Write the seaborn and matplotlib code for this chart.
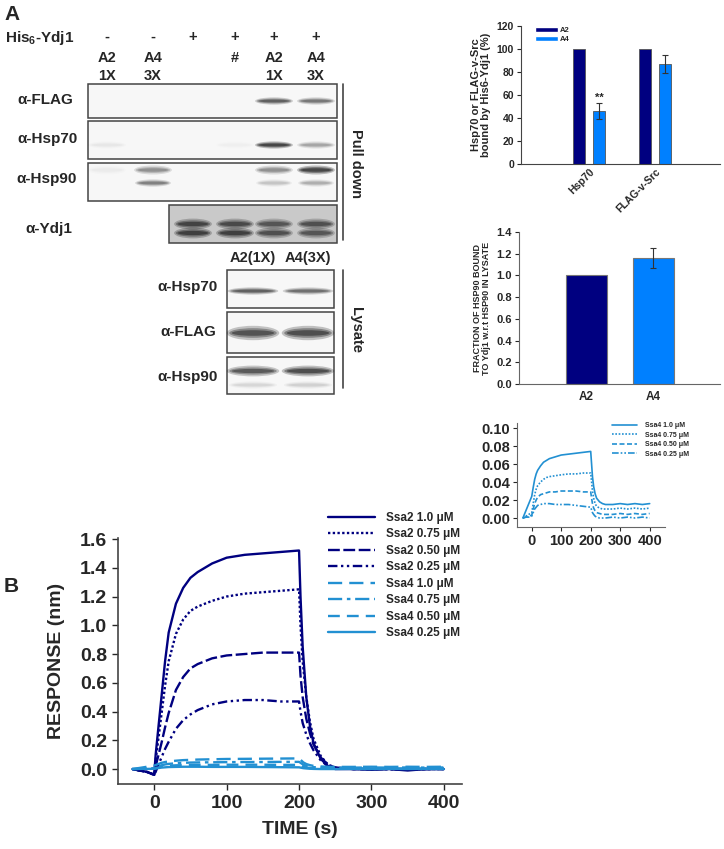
import numpy as np
import pandas as pd
import matplotlib
matplotlib.use("Agg")
import matplotlib.pyplot as plt
import seaborn as sns
from matplotlib.patches import Rectangle, Ellipse, Patch
from matplotlib.lines import Line2D

# ---------------- DATA ----------------
lane_treatment = ["-", "-", "+", "+", "+", "+"]
lane_label_top = ["A2", "A4", "", "#", "A2", "A4"]
lane_label_bot = ["1X", "3X", "", "", "1X", "3X"]

# western blot band intensities (0 = none, 1 = black)
pd_flag = [0.0, 0.0, 0.0, 0.0, 0.75, 0.6]
pd_hsp70 = [0.06, 0.0, 0.0, 0.03, 0.95, 0.35]
pd_hsp90_upper = [0.04, 0.45, 0.0, 0.0, 0.45, 0.95]
pd_hsp90_lower = [0.0, 0.55, 0.0, 0.0, 0.2, 0.3]
pd_ydj1_upper = [0.85, 0.8, 0.7, 0.75]   # lanes 3-6
pd_ydj1_lower = [0.9, 0.9, 0.75, 0.7]

lys_labels = ["A2(1X)", "A4(3X)"]
lys_hsp70 = [0.75, 0.65]
lys_flag = [0.85, 0.9]
lys_hsp90 = [0.8, 0.9]
lys_hsp90_lower = [0.12, 0.15]

bind_targets = ["Hsp70", "FLAG-v-Src"]
bind_A2 = [100, 100]
bind_A4 = [46, 87]
bind_A4_err = [7, 8]

frac_strains = ["A2", "A4"]
frac_vals = [1.0, 1.16]
frac_err = [0.0, 0.09]

# BLI sensorgrams
t_ssa2 = [-30, -20, -10, -5, 0, 2, 5, 10, 15, 20, 30, 40, 50, 60, 80, 100, 125, 150, 175, 200,
          202, 205, 210, 215, 220, 230, 240, 250, 275, 300, 325, 350, 375, 400]
ssa2_10 = [0.0, -0.01, -0.02, -0.03, -0.04, 0.10, 0.25, 0.50, 0.75, 0.95, 1.15, 1.26, 1.33, 1.37, 1.43,
           1.47, 1.49, 1.50, 1.51, 1.52, 1.20, 0.85, 0.50, 0.30, 0.18, 0.07, 0.02, 0.00, 0.00, -0.005,
           0.0, -0.01, 0.0, 0.0]
ssa2_075 = [0.0, -0.01, -0.02, -0.03, -0.04, 0.06, 0.18, 0.38, 0.58, 0.75, 0.94, 1.04, 1.10, 1.13, 1.17,
            1.20, 1.22, 1.23, 1.24, 1.25, 1.00, 0.75, 0.50, 0.33, 0.21, 0.09, 0.03, 0.01, 0.00, 0.00,
            0.0, -0.005, 0.0, 0.0]
ssa2_050 = [0.0, -0.01, -0.02, -0.03, -0.04, 0.02, 0.08, 0.18, 0.29, 0.39, 0.55, 0.64, 0.70, 0.73, 0.77,
            0.79, 0.80, 0.81, 0.81, 0.81, 0.65, 0.50, 0.35, 0.25, 0.17, 0.08, 0.03, 0.01, 0.00, 0.00,
            0.0, -0.005, 0.0, 0.0]
ssa2_025 = [0.0, -0.01, -0.02, -0.03, -0.04, -0.02, 0.02, 0.08, 0.14, 0.19, 0.28, 0.34, 0.38, 0.41, 0.45,
            0.47, 0.48, 0.48, 0.47, 0.47, 0.40, 0.32, 0.24, 0.18, 0.13, 0.06, 0.02, 0.01, 0.00, 0.00,
            0.0, -0.005, 0.0, 0.0]

t_ssa4 = [-30, -20, -10, 0, 5, 10, 15, 20, 30, 40, 50, 60, 80, 100, 125, 150, 175, 200,
          203, 206, 210, 215, 220, 230, 240, 250, 275, 300, 325, 350, 375, 400]
ssa4_10 = [0.0, 0.008, 0.016, 0.024, 0.034, 0.043, 0.049, 0.053, 0.058, 0.062, 0.064, 0.066, 0.068, 0.070,
           0.071, 0.072, 0.073, 0.074, 0.060, 0.046, 0.035, 0.027, 0.022, 0.018, 0.016, 0.015, 0.015,
           0.016, 0.015, 0.016, 0.015, 0.016]
ssa4_075 = [0.0, 0.002, 0.004, 0.006, 0.016, 0.026, 0.032, 0.036, 0.040, 0.043, 0.045, 0.046, 0.047, 0.048,
            0.049, 0.049, 0.050, 0.050, 0.040, 0.030, 0.022, 0.016, 0.013, 0.011, 0.010, 0.010, 0.010,
            0.011, 0.010, 0.011, 0.010, 0.011]
ssa4_050 = [0.0, 0.001, 0.002, 0.003, 0.010, 0.016, 0.020, 0.023, 0.026, 0.027, 0.028, 0.029, 0.029, 0.030,
            0.030, 0.030, 0.029, 0.029, 0.022, 0.016, 0.011, 0.008, 0.006, 0.005, 0.004, 0.004, 0.004,
            0.005, 0.004, 0.005, 0.004, 0.005]
ssa4_025 = [0.0, 0.001, 0.001, 0.002, 0.006, 0.010, 0.012, 0.014, 0.015, 0.016, 0.016, 0.016, 0.015, 0.015,
            0.015, 0.014, 0.013, 0.012, 0.009, 0.006, 0.004, 0.002, 0.001, 0.000, 0.000, 0.000, 0.001,
            0.000, 0.001, 0.000, 0.001, 0.000]

# ---------------- STYLE ----------------
sns.set_theme(style="white")
plt.rcParams['font.family'] = ['Liberation Sans', 'DejaVu Sans']
plt.rcParams['font.weight'] = 'bold'
plt.rcParams['axes.labelweight'] = 'bold'
plt.rcParams['mathtext.fontset'] = 'custom'
plt.rcParams['mathtext.rm'] = 'Liberation Sans:bold'
plt.rcParams['mathtext.it'] = 'Liberation Sans:bold'
plt.rcParams['mathtext.bf'] = 'Liberation Sans:bold'
plt.rcParams['mathtext.default'] = 'rm'

NAVY = "#000080"
BLUE = "#0080ff"
LINE4 = "#2290d2"
W, H = 724, 849

fig = plt.figure(figsize=(W / 100, H / 100), dpi=100)


def fa(x0, y0, x1, y1):
    """pixel box -> figure fraction rect"""
    return [x0 / W, 1 - y1 / H, (x1 - x0) / W, (y1 - y0) / H]


# ---------- blot canvas ----------
bg = fig.add_axes([0, 0, 1, 1], zorder=0)
bg.set_xlim(0, W)
bg.set_ylim(H, 0)
bg.axis("off")


def band(xc, yc, w, h, inten):
    if inten <= 0:
        return
    for sw, sh, a in [(1.05, 1.8, 0.25), (0.95, 1.2, 0.35), (0.85, 0.7, 0.45)]:
        bg.add_patch(Ellipse((xc, yc), w * sw, h * sh, facecolor="black",
                             alpha=min(1, inten * a), lw=0))


def box(x0, y0, x1, y1, fc="#f7f7f7"):
    bg.add_patch(Rectangle((x0, y0), x1 - x0, y1 - y0, facecolor=fc,
                           edgecolor="#444444", lw=1.1))


lane_x = [107, 153, 193, 235, 274, 316]
lys_x = [253, 308]
FS = 10.5

fig.text(4 / W, 1 - 14 / H, "A", fontsize=15, fontweight="bold", va="center")
bg.text(5, 38, r"His$_{6}$-Ydj1", fontsize=11, fontweight="bold", va="center")
for i, x in enumerate(lane_x):
    bg.text(x, 37, lane_treatment[i], fontsize=FS, fontweight="bold", ha="center", va="center")
    bg.text(x, 58, lane_label_top[i], fontsize=FS, fontweight="bold", ha="center", va="center")
    bg.text(x, 76, lane_label_bot[i], fontsize=FS, fontweight="bold", ha="center", va="center")

# pull-down boxes
box(88, 84, 337, 118)
box(88, 121, 337, 159)
box(88, 163, 337, 201)
box(169, 205, 337, 243, fc="#c9c9c9")
for i, x in enumerate(lane_x):
    band(x, 101, 36, 4, pd_flag[i])
    band(x, 145, 36, 4, pd_hsp70[i])
    band(x, 170, 36, 5, pd_hsp90_upper[i])
    band(x, 183, 34, 4, pd_hsp90_lower[i])
for j, x in enumerate(lane_x[2:]):
    band(x, 224, 36, 6, pd_ydj1_upper[j])
    band(x, 233, 36, 6, pd_ydj1_lower[j])

bg.text(45, 100, "α-FLAG", fontsize=11, fontweight="bold", ha="center", va="center")
bg.text(47, 139, "α-Hsp70", fontsize=11, fontweight="bold", ha="center", va="center")
bg.text(47, 179, "α-Hsp90", fontsize=11, fontweight="bold", ha="center", va="center")
bg.text(49, 229, "α-Ydj1", fontsize=11, fontweight="bold", ha="center", va="center")
bg.plot([343, 343], [84, 240], color="#444444", lw=1.2)
bg.text(356, 163, "Pull down", fontsize=FS, fontweight="bold", rotation=-90,
        ha="center", va="center")

for k, x in enumerate(lys_x):
    bg.text(x, 258, lys_labels[k], fontsize=FS, fontweight="bold", ha="center", va="center")

# lysate boxes
box(227, 270, 334, 308)
box(227, 312, 334, 353)
box(227, 357, 334, 394)
for k, x in enumerate(lys_x):
    band(x, 291, 48, 4, lys_hsp70[k])
    band(x, 333, 50, 8, lys_flag[k])
    band(x, 371, 50, 6, lys_hsp90[k])
    band(x, 385, 46, 4, lys_hsp90_lower[k])
bg.text(188, 287, "α-Hsp70", fontsize=11, fontweight="bold", ha="center", va="center")
bg.text(188, 332, "α-FLAG", fontsize=11, fontweight="bold", ha="center", va="center")
bg.text(188, 377, "α-Hsp90", fontsize=11, fontweight="bold", ha="center", va="center")
bg.plot([343, 343], [270, 388], color="#444444", lw=1.2)
bg.text(356, 330, "Lysate", fontsize=FS, fontweight="bold", rotation=-90,
        ha="center", va="center")

fig.text(4 / W, 1 - 587 / H, "B", fontsize=15, fontweight="bold", va="center")


def style_axes(ax, lw=1.0, color="#444444"):
    for s in ["top", "right"]:
        ax.spines[s].set_visible(False)
    for s in ["left", "bottom"]:
        ax.spines[s].set_color(color)
        ax.spines[s].set_linewidth(lw)
    ax.set_facecolor("none")


# ---------- top bar chart ----------
ax1 = fig.add_axes(fa(521, 26, 720, 164), zorder=2)
df1 = pd.DataFrame({
    "target": bind_targets * 2,
    "strain": ["A2"] * len(bind_targets) + ["A4"] * len(bind_targets),
    "value": bind_A2 + bind_A4,
})
sns.barplot(data=df1, x="target", y="value", hue="strain", order=bind_targets,
            hue_order=["A2", "A4"], palette={"A2": NAVY, "A4": BLUE}, saturation=1,
            width=0.6, gap=0.4, errorbar=None, legend=False, ax=ax1,
            edgecolor="#555555", linewidth=0.6)
a4_bars = ax1.containers[1]
for p, v, e in zip(a4_bars, bind_A4, bind_A4_err):
    xc = p.get_x() + p.get_width() / 2
    ax1.errorbar(xc, v, yerr=e, color="#333333", lw=0.8, capsize=2.5, capthick=0.8)
p0 = a4_bars[0]
ax1.text(p0.get_x() + p0.get_width() / 2, bind_A4[0] + bind_A4_err[0] + 0.5, "**",
         ha="center", va="bottom", fontsize=8, fontweight="bold")
ax1.set_xlim(-1.03, 1.98)
ax1.set_ylim(0, 120)
ax1.set_yticks(np.arange(0, 121, 20))
ax1.tick_params(axis="y", labelsize=7.5, length=3, width=0.8, direction="out", left=True, pad=2)
ax1.tick_params(axis="x", labelsize=7.5, length=0, pad=2)
for lab in ax1.get_xticklabels():
    lab.set_rotation(45)
    lab.set_ha("right")
    lab.set_rotation_mode("anchor")
    lab.set_fontweight("bold")
for lab in ax1.get_yticklabels():
    lab.set_fontweight("bold")
ax1.set_xlabel("")
ax1.set_ylabel("Hsp70 or FLAG-v-Src\nbound by His6-Ydj1 (%)", fontsize=8,
               fontweight="bold", linespacing=1.0)
ax1.yaxis.set_label_coords(-0.15, 0.5)
style_axes(ax1, lw=0.8)
ax1.legend(handles=[Patch(facecolor=NAVY, label="A2"), Patch(facecolor=BLUE, label="A4")],
           loc="upper left", bbox_to_anchor=(0.05, 1.02), frameon=False,
           prop={"size": 5.5, "weight": "bold"}, handlelength=3.0, handleheight=0.5,
           labelspacing=0.3, handletextpad=0.3, borderpad=0)

# ---------- middle bar chart ----------
ax2 = fig.add_axes(fa(519, 232, 720, 384), zorder=2)
sns.barplot(x=frac_strains, y=frac_vals, hue=frac_strains, saturation=1,
            palette={"A2": NAVY, "A4": BLUE}, width=0.61, errorbar=None,
            legend=False, ax=ax2, edgecolor="#777777", linewidth=0.8)
for p, v, e in zip(ax2.patches, frac_vals, frac_err):
    if e > 0:
        ax2.errorbar(p.get_x() + p.get_width() / 2, v, yerr=e, color="#333333",
                     lw=0.8, capsize=2.5, capthick=0.8)
ax2.set_xlim(-1.0, 1.99)
ax2.set_ylim(0, 1.4)
ax2.set_yticks(np.arange(0, 1.41, 0.2))
ax2.set_yticklabels([f"{v:.1f}" for v in np.arange(0, 1.41, 0.2)])
ax2.tick_params(axis="y", labelsize=8, length=3, width=0.8, direction="out", left=True, pad=2)
ax2.tick_params(axis="x", labelsize=8.5, length=0, pad=5)
for lab in ax2.get_xticklabels() + ax2.get_yticklabels():
    lab.set_fontweight("bold")
ax2.set_ylabel("FRACTION OF HSP90 BOUND\nTO Ydj1 w.r.t HSP90 IN LYSATE", fontsize=6.5,
               fontweight="bold", linespacing=1.05)
ax2.yaxis.set_label_coords(-0.14, 0.5)
style_axes(ax2, lw=0.8, color="#666666")

# ---------- small Ssa4 sensorgram ----------
ax3 = fig.add_axes(fa(517, 423, 665, 527), zorder=2)
small_series = [("Ssa4 1.0 μM", ssa4_10, "-"),
                ("Ssa4 0.75 μM", ssa4_075, (0, (1, 1))),
                ("Ssa4 0.50 μM", ssa4_050, (0, (3, 1.5))),
                ("Ssa4 0.25 μM", ssa4_025, (0, (4, 1.2, 1, 1.2, 1, 1.2)))]
h3 = []
for lab, ys, ls in small_series:
    sns.lineplot(x=t_ssa4, y=ys, ax=ax3, color=LINE4, linestyle=ls, lw=1.2, sort=False)
    h3.append(Line2D([], [], color=LINE4, linestyle=ls, lw=1.2, label=lab))
ax3.set_xlim(-50, 452)
ax3.set_ylim(-0.01, 0.1056)
ax3.set_xticks([0, 100, 200, 300, 400])
ax3.set_yticks([0.0, 0.02, 0.04, 0.06, 0.08, 0.10])
ax3.set_yticklabels([f"{v:.2f}" for v in [0.0, 0.02, 0.04, 0.06, 0.08, 0.10]])
ax3.tick_params(labelsize=10.5, length=3, width=0.8, direction="out", left=True, bottom=True, pad=2)
for lab in ax3.get_xticklabels() + ax3.get_yticklabels():
    lab.set_fontweight("bold")
style_axes(ax3, lw=0.8, color="#666666")
ax3.legend(handles=h3, loc="upper left", bbox_to_anchor=(0.62, 1.04), frameon=False,
           prop={"size": 5, "weight": "bold"}, handlelength=3.5, labelspacing=0.35,
           handletextpad=1.2, borderpad=0)

# ---------- main panel B ----------
ax4 = fig.add_axes(fa(118, 538, 462, 784), zorder=2)
ssa2_series = [("Ssa2 1.0 μM", ssa2_10, "-"),
               ("Ssa2 0.75 μM", ssa2_075, (0, (1, 1))),
               ("Ssa2 0.50 μM", ssa2_050, (0, (5, 1.5))),
               ("Ssa2 0.25 μM", ssa2_025, (0, (4, 1.5, 1, 1.5, 1, 1.5)))]
ssa4_series = [("Ssa4 1.0 μM", ssa4_10, (0, (6, 3))),
               ("Ssa4 0.75 μM", ssa4_075, (0, (6, 2, 1.5, 2))),
               ("Ssa4 0.50 μM", ssa4_050, (0, (5, 3))),
               ("Ssa4 0.25 μM", ssa4_025, "-")]
h4 = []
for lab, ys, ls in ssa2_series:
    sns.lineplot(x=t_ssa2, y=ys, ax=ax4, color=NAVY, linestyle=ls, lw=1.7, sort=False)
    h4.append(Line2D([], [], color=NAVY, linestyle=ls, lw=1.7, label=lab))
for lab, ys, ls in ssa4_series:
    sns.lineplot(x=t_ssa4, y=ys, ax=ax4, color=LINE4, linestyle=ls, lw=1.7, sort=False)
    h4.append(Line2D([], [], color=LINE4, linestyle=ls, lw=1.7, label=lab))
ax4.set_xlim(-50, 425)
ax4.set_ylim(-0.104, 1.607)
ax4.set_xticks([0, 100, 200, 300, 400])
ax4.set_yticks(np.arange(0, 1.61, 0.2))
ax4.set_yticklabels([f"{v:.1f}" for v in np.arange(0, 1.61, 0.2)])
ax4.tick_params(labelsize=14, length=4, width=1.0, direction="out", left=True, bottom=True, pad=4)
for lab in ax4.get_xticklabels() + ax4.get_yticklabels():
    lab.set_fontweight("bold")
ax4.set_xlabel("TIME (s)", fontsize=14, fontweight="bold")
ax4.set_ylabel("RESPONSE (nm)", fontsize=14, fontweight="bold")
ax4.xaxis.set_label_coords(0.529, -0.15)
ax4.yaxis.set_label_coords(-0.155, 0.5)
style_axes(ax4, lw=1.2)
ax4.legend(handles=h4, loc="upper left", bbox_to_anchor=(0.61, 1.106), frameon=False,
           prop={"size": 8.5, "weight": "bold"}, handlelength=4.0, labelspacing=0.38,
           handletextpad=0.9, borderpad=0, borderaxespad=0)

fig.savefig("out.png", dpi=100, facecolor="white")
